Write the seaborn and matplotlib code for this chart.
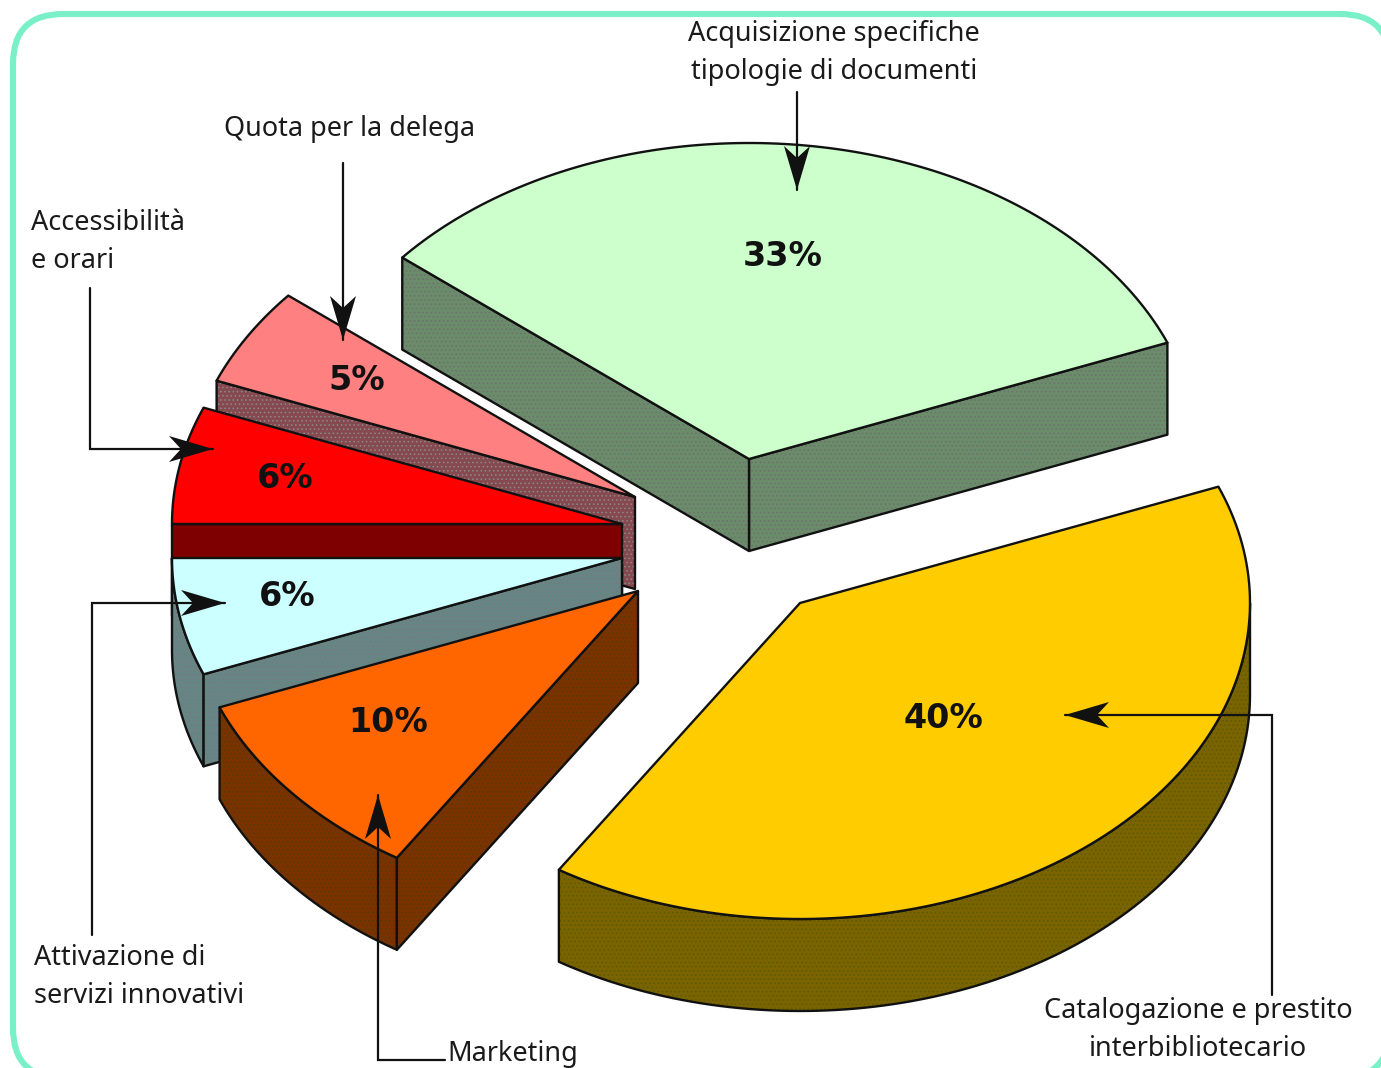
import numpy as np
import matplotlib
matplotlib.use("Agg")
import matplotlib.pyplot as plt
from matplotlib.patches import FancyBboxPatch, Polygon
import seaborn as sns

sns.set_theme(style="white")

# ---- data -------------------------------------------------------------
categories = ["Acquisizione specifiche\ntipologie di documenti",
              "Quota per la delega",
              "Accessibilità\ne orari",
              "Attivazione di\nservizi innovativi",
              "Marketing",
              "Catalogazione e prestito\ninterbibliotecario"]
values = [33, 5, 6, 6, 10, 40]

# ---- style / layout ----------------------------------------------------
top_colors = sns.color_palette(["#CCFFCC", "#FF8080", "#FF0000", "#CCFFFF", "#FF6600", "#FFCC00"])
side_colors = ["#6A8C6A", "#85494F", "#7F0000", "#668585", "#7A3300", "#7A6400"]
dot_colors = ["#707070", "#8A8A8A", None, "#7A7A7A", "#5A3A00", "#5E5A00"]
apexes = [(749, 459), (635, 497), (622, 524), (622, 558), (638, 591), (800, 603)]
pct_pos = [(783, 257), (357, 380), (285, 479), (287, 597), (388, 722), (943, 719)]
A, B, DEPTH = 450, 316, 92
START = 21.6
INK = "#111111"

plt.rcParams["hatch.linewidth"] = 0.6
fig = plt.figure(figsize=(13.81, 10.68), dpi=100)
ax = fig.add_axes([0, 0, 1, 1])
ax.set_xlim(0, 1381)
ax.set_ylim(1068, 0)
ax.axis("off")

ax.add_patch(FancyBboxPatch((13, 14), 1377, 1064,
                            boxstyle="round,pad=0,rounding_size=50",
                            fc="white", ec="#7AF0C8", lw=4.4, zorder=0))


def face(pts, color, dots, z):
    ax.add_patch(Polygon(pts, closed=True, fc=color, ec="none", lw=0, zorder=z))
    if dots:
        ax.add_patch(Polygon(pts, closed=True, fc="none", ec=dots, lw=0,
                             hatch="....", zorder=z))
    ax.add_patch(Polygon(pts, closed=True, fc="none", ec=INK, lw=1.7, zorder=z,
                         joinstyle="round"))


angles = START + np.concatenate([[0], np.cumsum(values)]) * 3.6
for i, v in enumerate(values):
    cx, cy = apexes[i]
    t0, t1 = angles[i], angles[i + 1]
    z = 2 + i
    apex = np.array([cx, cy], float)
    drop = np.array([0, DEPTH])

    def rim(deg):
        r = np.radians(deg)
        return np.column_stack([cx + A * np.cos(r), cy - B * np.sin(r)])

    # only the faces turned towards the viewer are drawn
    lo, hi = max(t0, 180), min(t1, 360)
    if hi > lo:
        arc = rim(np.linspace(lo, hi, 100))
        face(np.vstack([arc, arc[::-1] + drop]), side_colors[i], dot_colors[i], z)
    if np.cos(np.radians(t0)) > 1e-6:
        e = rim(np.array([t0]))[0]
        face(np.array([apex, e, e + drop, apex + drop]), side_colors[i], dot_colors[i], z)
    if np.cos(np.radians(t1)) < -1e-6:
        e = rim(np.array([t1]))[0]
        face(np.array([apex, e, e + drop, apex + drop]), side_colors[i], dot_colors[i], z)
    face(np.vstack([apex, rim(np.linspace(t0, t1, 120))]), top_colors[i], None, z)
    ax.text(*pct_pos[i], f"{v}%", ha="center", va="center", fontsize=24,
            fontweight="bold", family="DejaVu Sans", color=INK, zorder=20)


def arrow(points):
    pts = np.array(points, float)
    ax.plot(pts[:, 0], pts[:, 1], color=INK, lw=1.6, zorder=21, solid_joinstyle="miter")
    tip, prev = pts[-1], pts[-2]
    d = (tip - prev) / np.linalg.norm(tip - prev)
    n = np.array([-d[1], d[0]])
    head = [tip, tip - 44 * d + 13 * n, tip - 32 * d, tip - 44 * d - 13 * n]
    ax.add_patch(Polygon(head, closed=True, fc=INK, ec="none", zorder=22))


arrow([(797, 92), (797, 190)])
arrow([(343, 163), (343, 340)])
arrow([(90, 288), (90, 449), (213, 449)])
arrow([(92, 935), (92, 603), (225, 603)])
arrow([(445, 1060), (378, 1060), (378, 795)])
arrow([(1272, 995), (1272, 715), (1065, 715)])

lab = dict(fontsize=19.5, family="Noto Sans", color="#1a1a1a", zorder=23, linespacing=1.45)
ax.text(834, 53, categories[0], ha="center", va="center", **lab)
ax.text(350, 129, categories[1], ha="center", va="center", **lab)
ax.text(31, 242, categories[2], ha="left", va="center", **lab)
ax.text(34, 977, categories[3], ha="left", va="center", **lab)
ax.text(447, 1054, categories[4], ha="left", va="center", **lab)
ax.text(1198, 1030, categories[5], ha="center", va="center", **lab)

fig.savefig("out.png", dpi=100)
